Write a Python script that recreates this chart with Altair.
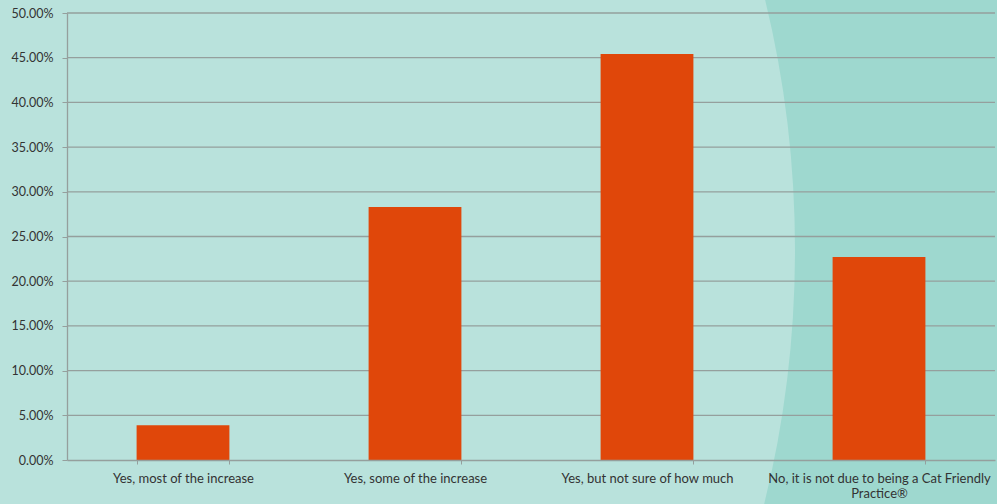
import altair as alt
import pandas as pd

categories = [
    "Yes, most of the increase",
    "Yes, some of the increase",
    "Yes, but not sure of how much",
    "No, it is not due to being a Cat Friendly Practice\u00ae",
]
values = [0.039, 0.283, 0.454, 0.227]
grid_values = [0.05, 0.10, 0.15, 0.20, 0.25, 0.30, 0.35, 0.40, 0.45, 0.50]

LIGHT = "#b9e2dc"
DARK = "#9ed8cf"
BAR = "#e0470a"
GRID = "#959f9d"
TEXT = "#333333"
FONT = "Lato"

df = pd.DataFrame({"category": categories, "value": values})
grid_df = pd.DataFrame({"v": grid_values})
deco_df = pd.DataFrame({"d": [0]})

W, H = 928, 447

# background decoration: darker area on the right bounded by a large arc
R_inner = 1057
SW = 600
r_s = R_inner + SW / 2
deco = alt.Chart(deco_df).mark_point(
    shape="circle", filled=False, stroke=DARK, strokeWidth=SW, opacity=1,
    size=(2 * r_s) ** 2,
).encode(x=alt.value(-329), y=alt.value(237))

y_scale = alt.Scale(domain=[0, 0.5])
y_axis = alt.Axis(
    title=None, format=".2%", values=[0] + grid_values, grid=False,
    domainColor=GRID, tickColor=GRID, tickSize=5, domainWidth=1.3,
    labelColor=TEXT, labelFont=FONT, labelFontSize=12.5, labelPadding=9,
    zindex=1,
)

grid = alt.Chart(grid_df).mark_rule(color=GRID, strokeWidth=1.3).encode(
    y=alt.Y("v:Q", scale=y_scale, axis=y_axis)
)

bars = alt.Chart(df).mark_bar(color=BAR).encode(
    x=alt.X(
        "category:N",
        sort=categories,
        scale=alt.Scale(paddingInner=0.6, paddingOuter=0.3),
        axis=alt.Axis(
            title=None, labelAngle=0, tickBand="extent", domainColor=GRID,
            tickColor=GRID, tickSize=4, domainWidth=1.3, labelPadding=8,
            labelColor=TEXT, labelFont=FONT, labelFontSize=13, labelLimit=300,
            labelLineHeight=15,
            labelExpr="datum.label == 'No, it is not due to being a Cat Friendly Practice\u00ae' ? ['No, it is not due to being a Cat Friendly', 'Practice\u00ae'] : datum.label",
            zindex=1,
        ),
    ),
    y=alt.Y("value:Q", scale=y_scale, axis=y_axis),
)

chart = alt.layer(deco, grid, bars).properties(
    width=W, height=H, background=LIGHT,
    padding={"left": 67, "top": 13, "right": 2, "bottom": 44},
    autosize=alt.AutoSizeParams(type="none"),
).configure_view(stroke=None)

chart.save("out.html", embed_options={"renderer": "svg", "actions": False})
